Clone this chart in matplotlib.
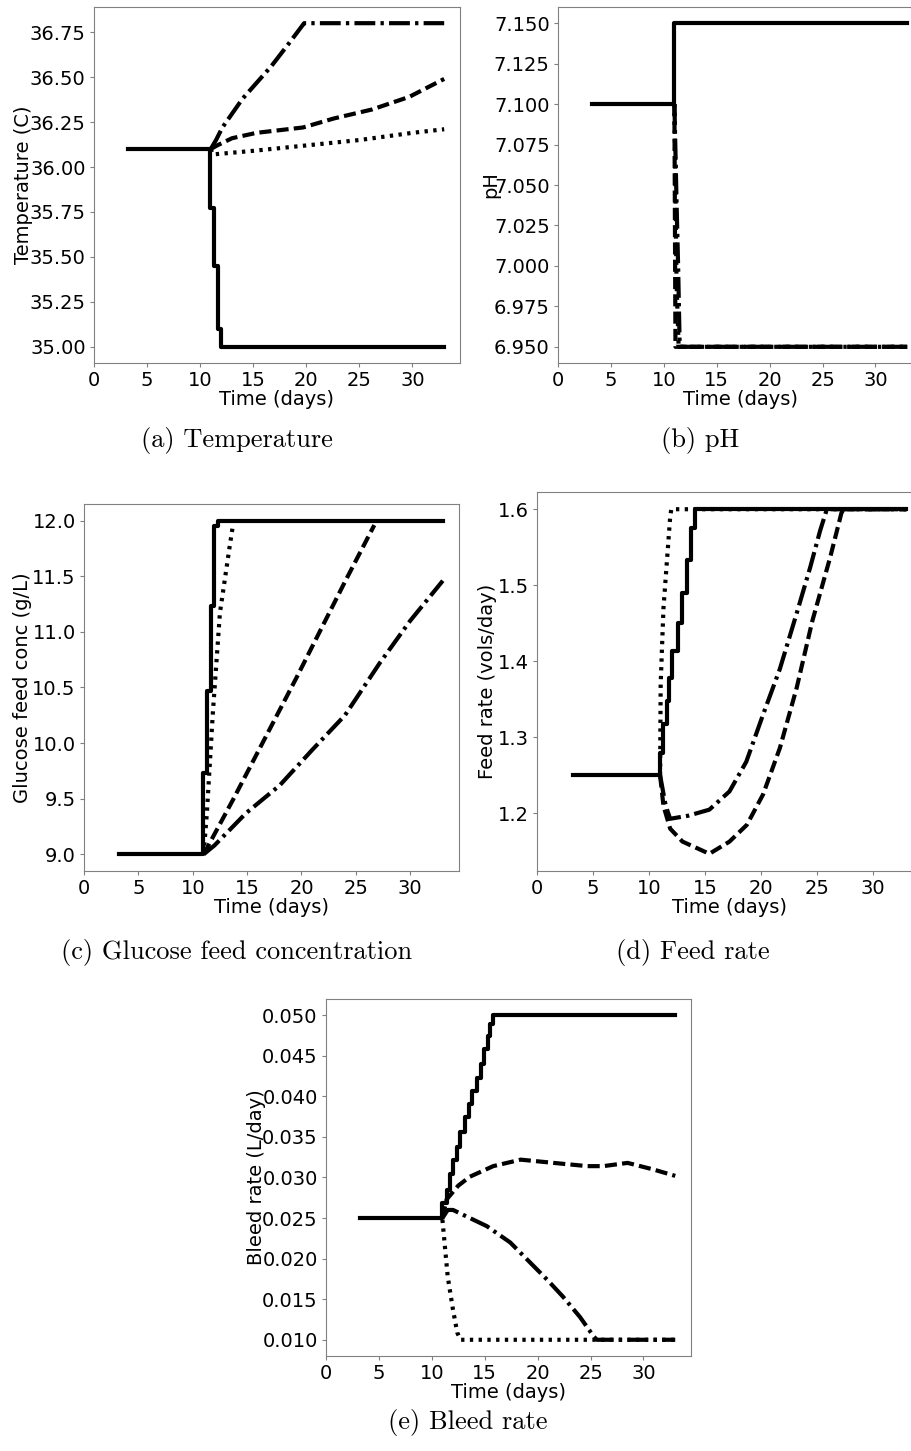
import matplotlib
matplotlib.use("Agg")
import matplotlib.pyplot as plt
from matplotlib.ticker import MultipleLocator, FormatStrFormatter

W, H = 912, 1451

# ---- data (time in days) ----
# (a) temperature
temp_solid_t = [3.2, 10.95, 11.35, 11.65, 12.0, 33.0]
temp_solid_v = [36.1, 35.77, 35.45, 35.1, 35.0, 35.0]
temp_dash_t = [11.0, 11.6, 13.0, 15.3, 19.7, 22.6, 26.2, 29.7, 33.0]
temp_dash_v = [36.1, 36.12, 36.16, 36.19, 36.22, 36.27, 36.32, 36.39, 36.49]
temp_dot_t = [11.0, 11.2, 15.0, 20.0, 25.0, 30.0, 33.0]
temp_dot_v = [36.1, 36.07, 36.09, 36.12, 36.15, 36.19, 36.21]
temp_dd_t = [11.0, 11.5, 12.1, 14.0, 16.7, 18.4, 19.8, 33.0]
temp_dd_v = [36.1, 36.15, 36.22, 36.38, 36.56, 36.69, 36.8, 36.8]

# (b) pH
ph_solid_t = [3.2, 11.0, 33.0]
ph_solid_v = [7.1, 7.15, 7.15]
ph_dash_t = [11.0, 11.1, 33.0]
ph_dash_v = [7.1, 6.95, 6.95]
ph_dot_t = [11.0, 11.2, 11.4, 33.0]
ph_dot_v = [7.1, 6.99, 6.95, 6.95]
ph_dd_t = [11.0, 11.2, 11.35, 11.5, 33.0]
ph_dd_v = [7.1, 7.04, 7.0, 6.95, 6.95]

# (c) glucose feed concentration
glc_solid_t = [3.2, 10.95, 11.35, 11.65, 11.95, 12.3, 33.0]
glc_solid_v = [9.0, 9.73, 10.47, 11.23, 11.95, 12.0, 12.0]
glc_dash_t = [11.0, 13.7, 19.5, 24.1, 26.7]
glc_dash_v = [9.0, 9.49, 10.58, 11.47, 11.96]
glc_dot_t = [11.0, 11.3, 11.85, 12.5, 13.4, 13.7]
glc_dot_v = [9.0, 9.37, 10.27, 11.17, 11.77, 11.96]
glc_dd_t = [11.0, 12.0, 14.9, 18.0, 21.0, 24.0, 27.2, 30.0, 33.0]
glc_dd_v = [9.0, 9.08, 9.37, 9.62, 9.94, 10.25, 10.72, 11.1, 11.46]

# (d) feed rate
feed_solid_t = [3.2, 11.0, 11.25, 11.6, 11.8, 12.1, 12.6, 13.0, 13.4, 13.75, 14.1, 33.0]
feed_solid_v = [1.25, 1.28, 1.317, 1.348, 1.378, 1.414, 1.45, 1.49, 1.533, 1.575, 1.6, 1.6]
feed_dash_t = [11.0, 11.3, 11.9, 13.0, 15.4, 17.2, 18.75, 20.2, 21.7, 23.2, 24.6, 26.2, 27.2, 27.4, 33.0]
feed_dash_v = [1.25, 1.21, 1.18, 1.163, 1.147, 1.163, 1.185, 1.225, 1.286, 1.365, 1.453, 1.537, 1.595, 1.6, 1.6]
feed_dot_t = [11.0, 11.05, 11.3, 11.6, 11.9, 12.0, 33.0]
feed_dot_v = [1.25, 1.37, 1.47, 1.53, 1.59, 1.6, 1.6]
feed_dd_t = [11.0, 11.5, 11.9, 13.5, 15.4, 17.2, 18.7, 20.2, 21.7, 23.2, 24.4, 25.3, 25.9, 33.0]
feed_dd_v = [1.25, 1.21, 1.193, 1.197, 1.205, 1.229, 1.268, 1.33, 1.39, 1.463, 1.523, 1.572, 1.6, 1.6]

# (e) bleed rate
bleed_solid_t = [3.2, 11.0, 11.4, 11.7, 12.0, 12.4, 12.7, 13.1, 13.5, 13.8, 14.3, 14.6, 14.9, 15.3, 15.5, 15.8, 33.0]
bleed_solid_v = [0.025, 0.0269, 0.0285, 0.0304, 0.0322, 0.0338, 0.0356, 0.0374, 0.039, 0.0406,
                 0.0423, 0.044, 0.0458, 0.0474, 0.0489, 0.05, 0.05]
bleed_dash_t = [11.0, 11.4, 12.5, 13.6, 15.8, 18.4, 21.5, 24.7, 26.2, 28.5, 30.9, 33.0]
bleed_dash_v = [0.025, 0.0273, 0.029, 0.0301, 0.0314, 0.0322, 0.0318, 0.0314, 0.0314, 0.0318, 0.031, 0.0302]
bleed_dot_t = [11.0, 11.2, 11.5, 12.0, 12.4, 12.7, 33.0]
bleed_dot_v = [0.0248, 0.022, 0.0178, 0.0137, 0.0109, 0.01, 0.01]
bleed_dd_t = [11.0, 11.5, 12.0, 15.2, 17.4, 19.0, 20.9, 22.4, 24.0, 25.3, 25.6, 33.0]
bleed_dd_v = [0.025, 0.026, 0.026, 0.024, 0.022, 0.0199, 0.0174, 0.0153, 0.0128, 0.0104, 0.01, 0.01]

# dash patterns, in units of line width (slightly tighter than matplotlib's defaults)
DASHED = (2.9, 1.25)
DOTTED = (0.8, 1.3)
DASHDOT = (5.0, 1.25, 0.8, 1.25)


def add_axes(fig, left, top, right, bottom):
    return fig.add_axes([left / W, 1 - bottom / H, (right - left) / W, (bottom - top) / H])


def draw_panel(ax, series, ylabel, ystep, yfmt, label_x):
    solid, dash, dot, dd = series
    ax.plot(*dash, color="black", lw=3, ls=(0, DASHED))
    ax.plot(*dot, color="black", lw=3, ls=(0, DOTTED))
    ax.plot(*dd, color="black", lw=3, ls=(0, DASHDOT))
    ax.plot(*solid, color="black", lw=3, ls="-", drawstyle="steps-post")
    ax.set_xlim(left=0)
    ax.xaxis.set_major_locator(MultipleLocator(5))
    ax.yaxis.set_major_locator(MultipleLocator(ystep))
    ax.yaxis.set_major_formatter(FormatStrFormatter(yfmt))
    ax.set_xlabel("Time (days)", fontsize=14, labelpad=0)
    ax.set_ylabel(ylabel, fontsize=14)
    ax.yaxis.set_label_coords(label_x, 0.5)
    ax.tick_params(labelsize=14, color="gray", length=3, pad=3)
    for sp in ax.spines.values():
        sp.set_color("gray")


fig = plt.figure(figsize=(W / 100, H / 100), dpi=100)

ax_a = add_axes(fig, 94, 7, 460, 363)
draw_panel(ax_a, [(temp_solid_t, temp_solid_v), (temp_dash_t, temp_dash_v),
                  (temp_dot_t, temp_dot_v), (temp_dd_t, temp_dd_v)],
           "Temperature (C)", 0.25, "%.2f", -0.167)

# (b) and (d) run past the right edge of the image, as in the original
ax_b = add_axes(fig, 558, 7, 923, 363)
draw_panel(ax_b, [(ph_solid_t, ph_solid_v), (ph_dash_t, ph_dash_v),
                  (ph_dot_t, ph_dot_v), (ph_dd_t, ph_dd_v)],
           "pH", 0.025, "%.3f", -0.159)

ax_c = add_axes(fig, 84, 504, 459, 871)
draw_panel(ax_c, [(glc_solid_t, glc_solid_v), (glc_dash_t, glc_dash_v),
                  (glc_dot_t, glc_dot_v), (glc_dd_t, glc_dd_v)],
           "Glucose feed conc (g/L)", 0.5, "%.1f", -0.139)

ax_d = add_axes(fig, 537, 492, 923, 871)
draw_panel(ax_d, [(feed_solid_t, feed_solid_v), (feed_dash_t, feed_dash_v),
                  (feed_dot_t, feed_dot_v), (feed_dd_t, feed_dd_v)],
           "Feed rate (vols/day)", 0.1, "%.1f", -0.104)

ax_e = add_axes(fig, 326, 999, 691, 1356)
draw_panel(ax_e, [(bleed_solid_t, bleed_solid_v), (bleed_dash_t, bleed_dash_v),
                  (bleed_dot_t, bleed_dot_v), (bleed_dd_t, bleed_dd_v)],
           "Bleed rate (L/day)", 0.005, "%.3f", -0.164)

captions = [
    ("(a) Temperature", 237, 441),
    ("(b) pH", 700, 441),
    ("(c) Glucose feed concentration", 237, 953),
    ("(d) Feed rate", 693, 953),
    ("(e) Bleed rate", 468, 1423),
]
for text, cx, cy in captions:
    fig.text(cx / W, 1 - cy / H, text, fontsize=19, family="cmr10",
             ha="center", va="center")

fig.savefig("out.png", dpi=100)
